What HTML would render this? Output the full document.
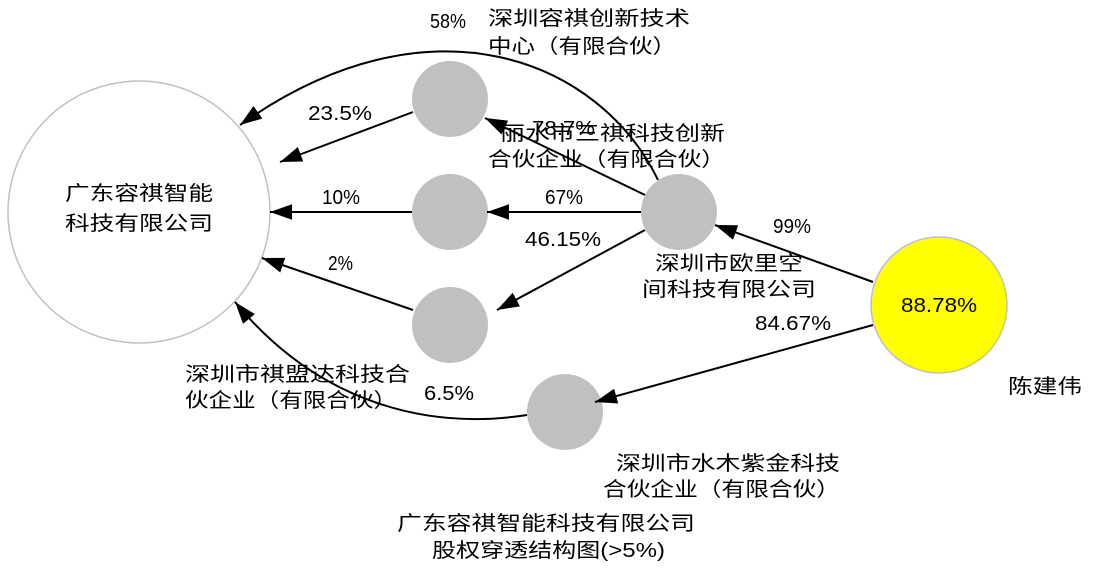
<!DOCTYPE html>
<html><head><meta charset="utf-8"><style>
html,body{margin:0;padding:0;background:#fff;}
svg text{font-family:"Liberation Sans","WenQuanYi Zen Hei","Noto Sans CJK SC",sans-serif;font-size:20px;fill:#000;}
</style></head><body>
<svg width="1093" height="583" viewBox="0 0 1093 583" xmlns="http://www.w3.org/2000/svg">
<defs>
<marker id="b" viewBox="0 0 10 7" refX="10" refY="3.5" markerWidth="22" markerHeight="16" markerUnits="userSpaceOnUse" orient="auto"><path d="M0,0L10,3.5L0,7z" fill="#000"/></marker></defs>
<circle cx="139" cy="212" r="131" fill="#fff" stroke="#c0c0c0" stroke-width="1.5"/>
<circle cx="450" cy="99" r="38" fill="#c0c0c0"/>
<circle cx="450" cy="212" r="38" fill="#c0c0c0"/>
<circle cx="450" cy="325" r="38" fill="#c0c0c0"/>
<circle cx="565" cy="412" r="38" fill="#c0c0c0"/>
<circle cx="679" cy="212" r="38" fill="#c0c0c0"/>
<circle cx="939" cy="305" r="68" fill="#ffff00" stroke="#c0c0c0" stroke-width="1.5"/>
<g stroke="#000" stroke-width="2" fill="none" marker-end="url(#b)">
<path d="M658,180 C600,60 430,-10 240,125"/>
<path d="M413,112 L280,162"/>
<path d="M412,212 L270,212"/>
<path d="M413,310 L262,258"/>
<path d="M527,415 C430,430 320,405 235,302"/>
<path d="M645,195 L485,118"/>
<path d="M641,212 L487,212"/>
<path d="M645,230 L497,310"/>
<path d="M873,282 L715,225"/>
<path d="M873,325 L595,402"/>
</g>
<g>
<text x="65" y="200" textLength="148" lengthAdjust="spacingAndGlyphs">广东容祺智能</text>
<text x="65" y="230" textLength="148" lengthAdjust="spacingAndGlyphs">科技有限公司</text>
<text x="430" y="28" textLength="36" lengthAdjust="spacingAndGlyphs">58%</text>
<text x="488" y="25" textLength="202" lengthAdjust="spacingAndGlyphs">深圳容祺创新技术</text>
<text x="488" y="53" textLength="188" lengthAdjust="spacingAndGlyphs">中心（有限合伙）</text>
<text x="308" y="120" textLength="64" lengthAdjust="spacingAndGlyphs">23.5%</text>
<text x="532" y="135" textLength="63" lengthAdjust="spacingAndGlyphs">78.7%</text>
<text x="500" y="140" textLength="225" lengthAdjust="spacingAndGlyphs">丽水市三祺科技创新</text>
<text x="488" y="166" textLength="237" lengthAdjust="spacingAndGlyphs">合伙企业（有限合伙）</text>
<text x="322" y="204" textLength="38" lengthAdjust="spacingAndGlyphs">10%</text>
<text x="545" y="204" textLength="38" lengthAdjust="spacingAndGlyphs">67%</text>
<text x="525" y="246" textLength="76" lengthAdjust="spacingAndGlyphs">46.15%</text>
<text x="773" y="233" textLength="38" lengthAdjust="spacingAndGlyphs">99%</text>
<text x="655" y="270" textLength="148" lengthAdjust="spacingAndGlyphs">深圳市欧里空</text>
<text x="642" y="296" textLength="174" lengthAdjust="spacingAndGlyphs">间科技有限公司</text>
<text x="328" y="270" textLength="25" lengthAdjust="spacingAndGlyphs">2%</text>
<text x="755" y="330" textLength="76" lengthAdjust="spacingAndGlyphs">84.67%</text>
<text x="901" y="312" textLength="76" lengthAdjust="spacingAndGlyphs">88.78%</text>
<text x="1008" y="393" textLength="74" lengthAdjust="spacingAndGlyphs">陈建伟</text>
<text x="185" y="381" textLength="225" lengthAdjust="spacingAndGlyphs">深圳市祺盟达科技合</text>
<text x="185" y="407" textLength="212" lengthAdjust="spacingAndGlyphs">伙企业（有限合伙）</text>
<text x="424" y="400" textLength="50" lengthAdjust="spacingAndGlyphs">6.5%</text>
<text x="616" y="470" textLength="224" lengthAdjust="spacingAndGlyphs">深圳市水木紫金科技</text>
<text x="603" y="496" textLength="237" lengthAdjust="spacingAndGlyphs">合伙企业（有限合伙）</text>
<text x="397" y="530" textLength="298" lengthAdjust="spacingAndGlyphs">广东容祺智能科技有限公司</text>
<text x="432" y="557" textLength="233" lengthAdjust="spacingAndGlyphs">股权穿透结构图(&gt;5%)</text>
</g>
</svg>
</body></html>
